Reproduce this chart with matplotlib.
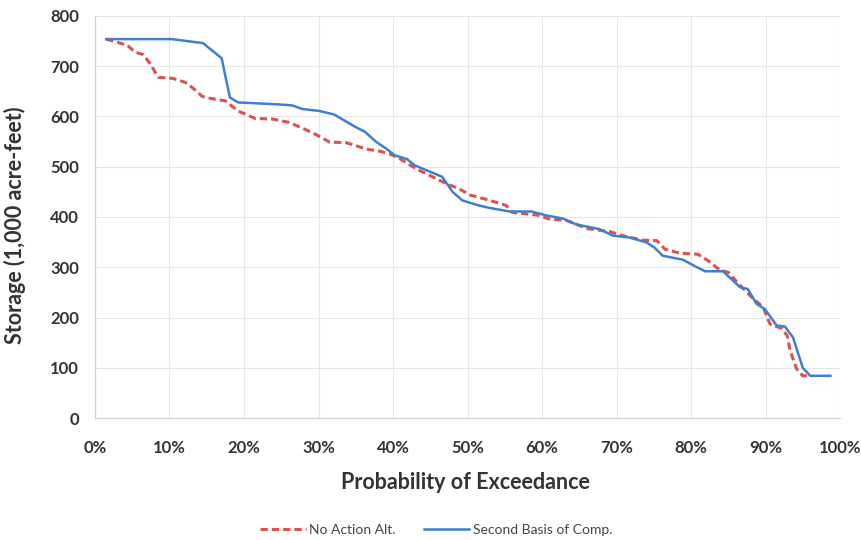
import matplotlib
matplotlib.use("Agg")
import matplotlib.pyplot as plt
from matplotlib.ticker import FuncFormatter

# values (percent exceedance, 1,000 acre-feet)
no_action_x = [1.5, 4.3, 5.4, 6.5, 7.4, 8.5, 10.4, 12.1, 13.2, 14.4, 15.5, 17.5, 19.2,
               21.5, 23.8, 26.1, 28.4, 29.8, 31.5, 33.7, 35.2, 36.4, 38.2, 39.5, 40.9,
               42.2, 43.5, 45.3, 47.2, 48.9, 50.3, 53.0, 55.2, 56.0, 59.3, 61.0, 63.3,
               64.6, 66.0, 69.1, 70.8, 73.5, 75.4, 76.5, 78.5, 80.9, 82.3, 83.9, 85.0,
               86.2, 87.9, 89.7, 90.6, 92.2, 92.9, 93.3, 94.2, 95.0, 96.0]
no_action_y = [754, 742, 728, 723, 705, 678, 676, 668, 656, 640, 636, 631, 611,
               596, 595, 588, 573, 563, 549, 548, 541, 535, 531, 526, 516,
               504, 493, 480, 466, 456, 444, 433, 423, 409, 404, 396, 393,
               386, 377, 371, 363, 354, 353, 336, 328, 326, 313, 294, 290,
               270, 244, 220, 187, 178, 164, 134, 97, 84, 84]

second_x = [1.5, 10.3, 14.5, 17.0, 18.1, 19.2, 24.7, 26.5, 27.8, 30.1, 32.1, 33.7,
            35.1, 36.2, 37.7, 39.1, 40.2, 41.9, 42.9, 44.5, 46.6, 48.0, 49.3, 51.5,
            53.0, 55.6, 58.6, 60.6, 62.8, 64.6, 67.7, 69.5, 71.8, 74.1, 75.1, 76.2,
            78.9, 80.8, 81.9, 84.3, 85.6, 86.6, 87.6, 88.8, 89.9, 91.5, 92.6, 93.7,
            95.0, 96.0, 98.7]
second_y = [754, 754, 746, 716, 638, 628, 624, 622, 615, 611, 604, 590,
            578, 570, 550, 536, 523, 515, 503, 493, 480, 450, 433, 423,
            418, 411, 411, 403, 397, 385, 376, 363, 359, 349, 339, 323,
            315, 300, 292, 292, 274, 260, 257, 227, 217, 184, 182, 160,
            100, 84, 84]

x_ticks = list(range(0, 101, 10))
y_ticks = list(range(0, 801, 100))

plt.rcParams['font.family'] = ['Lato', 'DejaVu Sans']

fig = plt.figure(figsize=(8.62, 5.4), dpi=100)
ax = fig.add_axes([0.1102, 0.2259, 0.8643, 0.7445])

ax.plot(no_action_x, no_action_y, color='#E0504C', lw=2.2, ls=(0, (2.4, 1.3)),
        label='No Action Alt.', zorder=3)
ax.plot(second_x, second_y, color='#3F7FCF', lw=1.8, label='Second Basis of Comp.', zorder=4)

ax.set_xlim(0, 100)
ax.set_ylim(0, 800)
ax.set_xticks(x_ticks)
ax.set_yticks(y_ticks)
ax.xaxis.set_major_formatter(FuncFormatter(lambda v, p: '%d%%' % v))
ax.grid(True, color='#E6E6E6', lw=0.8)
ax.set_axisbelow(True)
ax.tick_params(length=0, labelsize=12, labelcolor='#333333')
ax.tick_params(axis='x', pad=16)
ax.tick_params(axis='y', pad=11.5)
for lbl in ax.get_xticklabels() + ax.get_yticklabels():
    lbl.set_fontweight('bold')

for s in ['top', 'right']:
    ax.spines[s].set_visible(False)
for s in ['left', 'bottom']:
    ax.spines[s].set_color('#D2D2D2')
    ax.spines[s].set_linewidth(0.9)

ax.set_xlabel('Probability of Exceedance', fontsize=15.5, fontweight='bold', color='#333333')
ax.set_ylabel('Storage (1,000 acre-feet)', fontsize=15.5, fontweight='bold', color='#333333')
ax.xaxis.set_label_coords(0.497, -0.135)
ax.yaxis.set_label_coords(-0.093, 0.48)

leg = fig.legend(loc='center', bbox_to_anchor=(0.506, 0.018), ncol=2, frameon=False,
                 fontsize=10, handlelength=3.3, columnspacing=2.0, handletextpad=0.25)
for t in leg.get_texts():
    t.set_color('#444444')

fig.savefig('out.png', dpi=100)
